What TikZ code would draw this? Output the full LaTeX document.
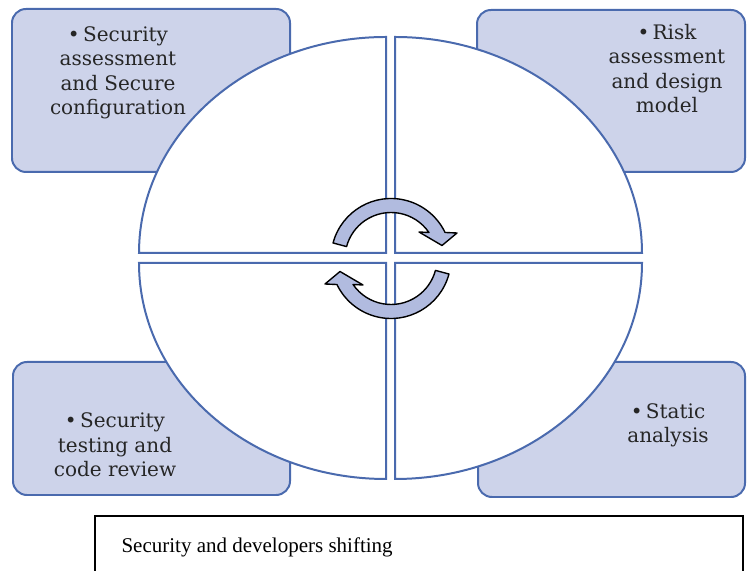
\documentclass[tikz,border=0pt]{standalone}
\usepackage{fontspec}
\setmainfont{Liberation Serif}
\newfontfamily\boxfont{DejaVu Serif}
\usetikzlibrary{calc}

\definecolor{boxfill}{HTML}{CDD3EA}
\definecolor{boxline}{HTML}{4A6AAE}
\definecolor{arrowfill}{HTML}{B1BBDF}

\tikzset{
  stagebox/.style={draw=boxline, fill=boxfill, line width=2pt, rounded corners=14pt},
  quarter/.style={draw=boxline, fill=white, line width=2pt},
  stagetext/.style={font=\boxfont\fontsize{20bp}{24.5bp}\selectfont, align=center, inner sep=0pt, text=black!85},
  cyclearrow/.style={draw=black, fill=arrowfill, line width=1.4pt, line join=round}
}

\begin{document}
\begin{tikzpicture}[x=1bp, y=1bp]
    \useasboundingbox (0,0) rectangle (748,571);
    \clip (0,0) rectangle (748,571);
    \draw[stagebox] (12,562) rectangle (290,399);
    \draw[stagebox] (477,561) rectangle (745,399);
    \draw[stagebox] (13,209) rectangle (290,76);
    \draw[stagebox] (478,209) rectangle (745,74);
    % anchor=base sits on the last line
    \node[stagetext, anchor=base] (config) at (118,456) {\textbullet\,Security\\assessment\\and Secure\\configuration};
    \node[stagetext, anchor=base] (design) at (667,458) {\textbullet\,Risk\\assessment\\and design\\model};
    \node[stagetext, anchor=base] (testing) at (115,94) {\textbullet\,Security\\testing and\\code review};
    \node[stagetext, anchor=base] (static) at (668,128) {\textbullet\,Static\\analysis};
    \coordinate (O) at (390.5,313);
    \foreach \sa/\ea/\sx/\sy in {180/90/-1/1, 90/0/1/1, 180/270/-1/-1, 0/-90/1/-1}
        \draw[quarter] ($(O)+(4.5*\sx,5*\sy)$) -- ++(\sa:247 and 216)
            arc[start angle=\sa, end angle=\ea, x radius=247, y radius=216] -- cycle;
    \coordinate (hub) at (391,312.5);
    \foreach \r in {0,180}
        \filldraw[cyclearrow, rotate around={\r:(hub)}] ($(hub)+(165:60)$)
            arc[start angle=165, end angle=25.7, radius=60]
            -- ($(hub)+(66,25.5)$) -- ($(hub)+(51,13)$) -- ($(hub)+(28,26.5)$)
            -- ($(hub)+(34.4:46)$) arc[start angle=34.4, end angle=165, radius=46] -- cycle;
    \draw[line width=1.5pt] (95,55) rectangle (743,-20);
    \node[anchor=base west, font=\fontsize{21bp}{25bp}\selectfont] (shift) at (118,18) {Security and developers shifting};
\end{tikzpicture}
\end{document}
